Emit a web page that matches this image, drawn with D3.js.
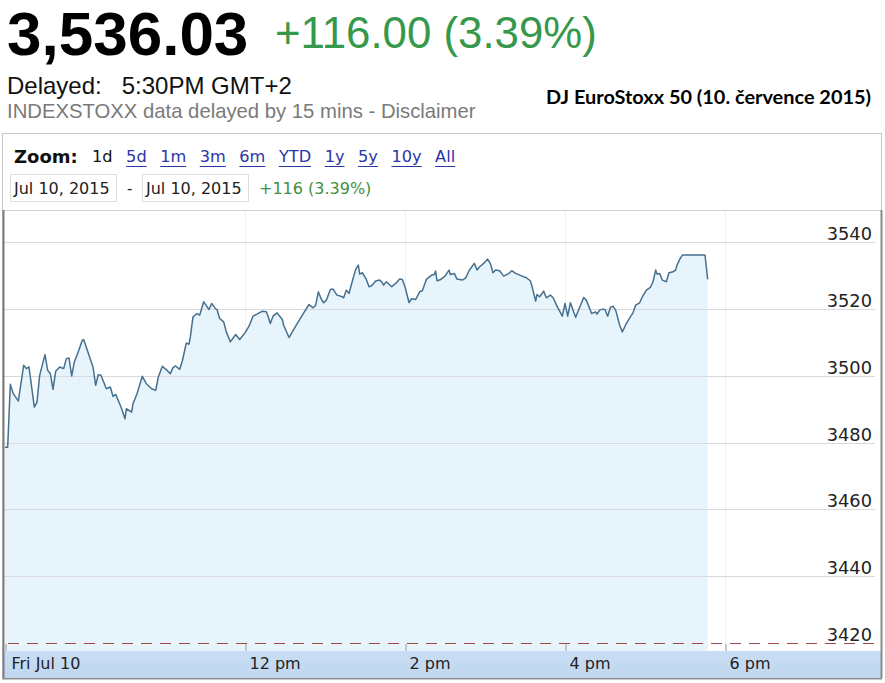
<!DOCTYPE html>
<html>
<head>
<meta charset="utf-8">
<script src="https://cdn.jsdelivr.net/npm/d3@7"></script>
<style>
  html, body { margin: 0; padding: 0; background: #fff; }
  svg { display: block; }
</style>
</head>
<body>
<svg id="chart" width="885" height="683"></svg>
<script>
// ---------------- data ----------------
const sessionDate = "2015-07-10";
const openTime = "09:00";
// minutes after 09:00
const minutesSinceOpen = [
  0,2,4,6,10,14,16,18,22,24,26,30,32,34,36,38,41,44,46,48,50,52,54,58,59,63,66,68,70,72,
  76,79,81,83,87,90,91,95,96,99,103,106,110,113,115,118,120,121,124,126,128,131,133,136,138,139,141,144,146,149,
  153,155,158,159,161,164,166,169,173,176,180,183,186,189,193,196,197,199,201,204,208,209,213,218,223,228,231,233,235,237,
  239,241,244,246,249,253,254,256,258,260,263,265,266,268,271,273,275,278,281,283,284,286,290,293,296,298,300,303,305,308,
  311,313,316,320,322,323,324,326,330,333,334,337,339,343,345,346,348,352,354,356,359,362,364,366,368,371,374,378,380,383,
  386,391,394,395,398,399,401,404,406,409,411,414,418,420,422,424,428,434,436,440,443,444,446,448,450,452,454,456,458,461,
  463,466,469,471,473,476,478,481,484,486,488,489,491,493,496,498,501,503,504,506,508,525,527
];
const prices = [
  3478.6,3478.6,3497.4,3494.8,3492.4,3503.1,3502.1,3502.6,3490.6,3492.1,3500.1,3506.3,3501.6,3500.6,3495.9,3501.3,3502.6,3502.1,3505.1,3505.3,3499.9,3504.1,3506.1,3510.6,3510.8,3506.1,3502.6,3497.1,3500.3,3500.1,
  3496.1,3496.6,3493.8,3494.4,3490.6,3487.1,3490.1,3489.1,3491.6,3494.6,3499.8,3497.6,3496.1,3495.6,3499.6,3502.8,3502.1,3501.8,3500.6,3502.4,3502.9,3501.9,3504.4,3509.8,3509.4,3511.6,3517.6,3518.6,3518.1,3522.1,
  3519.8,3521.6,3520.0,3519.8,3517.1,3516.1,3513.1,3510.1,3512.3,3510.8,3512.8,3514.8,3517.8,3518.4,3519.3,3519.1,3518.1,3515.6,3517.8,3518.8,3516.8,3515.1,3511.4,3514.8,3518.1,3521.3,3520.3,3521.1,3525.1,3523.1,
  3521.8,3522.6,3525.8,3525.9,3524.1,3523.6,3523.3,3525.6,3524.6,3527.6,3531.8,3533.1,3530.4,3530.8,3528.8,3526.6,3526.9,3528.3,3528.6,3527.8,3527.1,3528.1,3526.6,3527.6,3528.9,3528.8,3526.6,3521.9,3523.0,3522.8,
  3525.1,3525.4,3528.8,3530.1,3530.3,3531.3,3528.4,3528.6,3529.8,3531.6,3530.3,3530.6,3528.9,3528.6,3529.1,3529.6,3531.4,3533.6,3531.6,3532.6,3533.6,3534.9,3533.6,3530.8,3531.6,3531.4,3529.8,3530.6,3531.4,3530.6,
  3530.1,3529.3,3528.4,3527.1,3522.3,3524.3,3523.6,3525.3,3523.3,3524.1,3523.4,3520.8,3517.8,3521.6,3517.8,3521.8,3517.5,3523.4,3522.6,3518.6,3519.1,3518.4,3519.6,3519.9,3519.8,3517.8,3520.4,3520.8,3519.6,3515.1,
  3513.1,3515.6,3517.6,3518.8,3521.1,3521.8,3523.6,3525.6,3526.4,3528.1,3531.6,3530.4,3530.6,3528.6,3528.1,3530.8,3531.1,3531.6,3533.1,3534.8,3536.1,3536.1,3528.8
];
const yTicks = [3420, 3440, 3460, 3480, 3500, 3520, 3540];
const xTickTimes = ["09:00", "12:00", "14:00", "16:00", "18:00"];
const xTickLabels = ["Fri Jul 10", "12 pm", "2 pm", "4 pm", "6 pm"];
const zoomOptions = ["1d", "5d", "1m", "3m", "6m", "YTD", "1y", "5y", "10y", "All"];
const activeZoom = "1d";
const headline = { price: "3,536.03", change: "+116.00 (3.39%)" };
const delayedText = "Delayed:   5:30PM GMT+2";
const sourceText = "INDEXSTOXX data delayed by 15 mins - Disclaimer";
const titleText = "DJ EuroStoxx 50 (10. července 2015)";
const rangeFrom = "Jul 10, 2015", rangeTo = "Jul 10, 2015", rangeChange = "+116 (3.39%)";

// ---------------- setup ----------------
const svg = d3.select("#chart");
const parse = d3.timeParse("%Y-%m-%d %H:%M");
const t0 = parse(sessionDate + " " + openTime);
const t1 = d3.timeHour.offset(t0, 11);
const data = minutesSinceOpen.map((m, i) => ({ t: new Date(t0.getTime() + m * 60000), v: prices[i] }));

const box = { left: 3, right: 882, top: 133, bottom: 679 };
const plotTop = 210, plotBottom = 651, bandBottom = 678;

const x = d3.scaleTime().domain([t0, t1]).range([5, 885]);
const y = d3.scaleLinear().domain([3420, 3540]).range([643, 242]);

// ---------------- header ----------------
svg.append("text").attr("x", 7).attr("y", 55)
  .attr("font-family", "'Liberation Sans', Arial, sans-serif").attr("font-weight", "bold")
  .attr("font-size", 62).attr("fill", "#000").text(headline.price);
svg.append("text").attr("x", 275).attr("y", 48)
  .attr("font-family", "'Liberation Sans', Arial, sans-serif")
  .attr("font-size", 43.8).attr("fill", "#35984a").text(headline.change);
svg.append("text").attr("x", 7).attr("y", 94)
  .attr("font-family", "'Liberation Sans', Arial, sans-serif")
  .attr("font-size", 24).attr("fill", "#111")
  .style("white-space", "pre").text(delayedText);
svg.append("text").attr("x", 7).attr("y", 118)
  .attr("font-family", "'Liberation Sans', Arial, sans-serif")
  .attr("font-size", 20.3).attr("fill", "#7a7a7a").text(sourceText);
svg.append("text").attr("x", 546).attr("y", 104)
  .attr("font-family", "Lato, 'Open Sans', sans-serif").attr("font-weight", "bold")
  .attr("font-size", 18).attr("fill", "#000")
  .attr("textLength", 325).attr("lengthAdjust", "spacingAndGlyphs").text(titleText);

// ---------------- chart frame ----------------
svg.append("rect").attr("x", box.left - 0.5).attr("y", box.top + 0.5)
  .attr("width", box.right - box.left).attr("height", box.bottom - box.top)
  .attr("fill", "#fff").attr("stroke", "#c8c8c8");

// zoom controls
const ctrlFont = "'DejaVu Sans', Verdana, sans-serif";
svg.append("text").attr("x", 14).attr("y", 163).attr("font-family", ctrlFont)
  .attr("font-weight", "bold").attr("font-size", 18).attr("fill", "#111").text("Zoom:");
let zx = 92;
zoomOptions.forEach(z => {
  const active = z === activeZoom;
  const t = svg.append("text").attr("x", zx).attr("y", 162).attr("font-family", ctrlFont)
    .attr("font-size", 16.2).attr("fill", active ? "#111" : "#2b35a8").text(z);
  const w = t.node().getComputedTextLength();
  if (!active) {
    svg.append("line").attr("x1", zx).attr("x2", zx + w).attr("y1", 166.5).attr("y2", 166.5)
      .attr("stroke", "#2b35a8").attr("stroke-width", 1);
  }
  zx += w + 13.5;
});

// date range inputs
const inputs = [{ x: 10, text: rangeFrom }, { x: 142, text: rangeTo }];
inputs.forEach(inp => {
  svg.append("rect").attr("x", inp.x + 0.5).attr("y", 174.5).attr("width", 106).attr("height", 27)
    .attr("fill", "#fff").attr("stroke", "#dedede");
  svg.append("text").attr("x", inp.x + 4).attr("y", 194).attr("font-family", ctrlFont)
    .attr("font-size", 16).attr("fill", "#222").text(inp.text);
});
svg.append("text").attr("x", 127).attr("y", 194).attr("font-family", ctrlFont)
  .attr("font-size", 15).attr("fill", "#222").text("-");
svg.append("text").attr("x", 259).attr("y", 194).attr("font-family", ctrlFont)
  .attr("font-size", 16).attr("fill", "#3f8f3f").text(rangeChange);

// separator above plot
svg.append("line").attr("x1", box.left).attr("x2", box.right).attr("y1", plotTop + 0.5).attr("y2", plotTop + 0.5)
  .attr("stroke", "#cfcfcf");

// ---------------- plot ----------------
const g = svg.append("g");
svg.append("clipPath").attr("id", "plotclip").append("rect")
  .attr("x", 4).attr("y", plotTop + 1).attr("width", 877).attr("height", plotBottom - plotTop - 1);

// vertical faint gridlines
const tickDates = xTickTimes.map(s => parse(sessionDate + " " + s));
g.selectAll("line.vgrid").data(tickDates.slice(1)).join("line").attr("class", "vgrid")
  .attr("x1", d => Math.round(x(d)) + 0.5).attr("x2", d => Math.round(x(d)) + 0.5)
  .attr("y1", plotTop + 1).attr("y2", plotBottom).attr("stroke", "#efefef");

// area + line
const area = d3.area().x(d => x(d.t)).y0(plotBottom).y1(d => y(d.v)).curve(d3.curveLinear);
const line = d3.line().x(d => x(d.t)).y(d => y(d.v)).curve(d3.curveLinear);
g.append("path").datum(data).attr("d", area).attr("fill", "#e7f4fc").attr("clip-path", "url(#plotclip)");

// horizontal gridlines
g.selectAll("line.hgrid").data(yTicks.filter(v => v !== 3420)).join("line").attr("class", "hgrid")
  .attr("x1", 4).attr("x2", 875).attr("y1", d => Math.round(y(d)) + 0.5).attr("y2", d => Math.round(y(d)) + 0.5)
  .attr("stroke", "#d9d9d9");
// base dashed line
g.append("line").attr("x1", 4).attr("x2", 875).attr("y1", Math.round(y(3420)) + 0.5).attr("y2", Math.round(y(3420)) + 0.5)
  .attr("stroke", "#a04848").attr("stroke-width", 1.2).attr("stroke-dasharray", "11,8").attr("stroke-dashoffset", -4);

g.append("path").datum(data).attr("d", line).attr("fill", "none")
  .attr("stroke", "#46708f").attr("stroke-width", 1.5).attr("stroke-linejoin", "round");

// y labels
g.selectAll("text.ylab").data(yTicks).join("text").attr("class", "ylab")
  .attr("x", 872).attr("y", d => y(d) - 2).attr("text-anchor", "end")
  .attr("font-family", ctrlFont).attr("font-size", 17.8).attr("fill", "#222").text(d => d);

// ---------------- x-axis band ----------------
const bandGrad = svg.append("defs").append("linearGradient").attr("id", "band")
  .attr("x1", 0).attr("x2", 0).attr("y1", 0).attr("y2", 1);
bandGrad.append("stop").attr("offset", "0%").attr("stop-color", "#c9def4");
bandGrad.append("stop").attr("offset", "100%").attr("stop-color", "#bfd6ef");
svg.append("rect").attr("x", box.left).attr("y", plotBottom).attr("width", box.right - box.left)
  .attr("height", bandBottom - plotBottom).attr("fill", "url(#band)");
svg.append("line").attr("x1", box.left).attr("x2", box.right).attr("y1", bandBottom + 0.5).attr("y2", bandBottom + 0.5)
  .attr("stroke", "#8a8a8a");

const xAxis = d3.axisBottom(x).tickValues(tickDates).tickSize(7).tickSizeOuter(0)
  .tickFormat((d, i) => xTickLabels[i]);
const ax = svg.append("g").attr("transform", `translate(0,${plotBottom - 7})`).call(xAxis);
ax.select(".domain").remove();
ax.selectAll(".tick line").attr("stroke", "#9a9a9a").attr("transform", "translate(0.5,0)");
ax.selectAll(".tick text").attr("y", 25).attr("dy", 0).attr("text-anchor", "start").attr("dx", 4)
  .attr("font-family", ctrlFont).attr("font-size", 16).attr("fill", "#222");
ax.selectAll(".tick").filter((d, i) => i === 0).select("text").attr("dx", 6);

// side borders of plot
svg.append("line").attr("x1", 3.5).attr("x2", 3.5).attr("y1", plotTop).attr("y2", bandBottom)
  .attr("stroke", "#7d7d7d").attr("stroke-width", 2);
svg.append("line").attr("x1", 881.5).attr("x2", 881.5).attr("y1", plotTop).attr("y2", bandBottom)
  .attr("stroke", "#8a8a8a").attr("stroke-width", 2);
</script>
</body>
</html>
